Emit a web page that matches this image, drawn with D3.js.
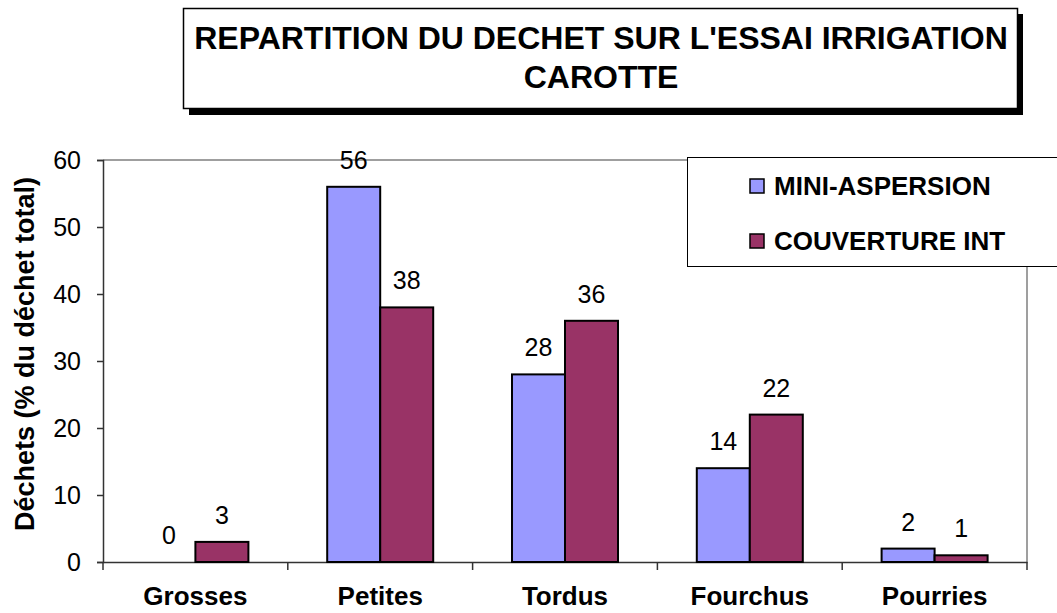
<!DOCTYPE html>
<html>
<head>
<meta charset="utf-8">
<script src="https://cdn.jsdelivr.net/npm/d3@7"></script>
<style>
  body { margin: 0; background: #fff; }
  svg { display: block; font-family: "Liberation Sans", Arial, sans-serif; }
</style>
</head>
<body>
<svg id="chart" width="1057" height="613"></svg>
<script>
var categories = ["Grosses", "Petites", "Tordus", "Fourchus", "Pourries"];
var seriesNames = ["MINI-ASPERSION", "COUVERTURE INT"];
var miniAspersion = [0, 56, 28, 14, 2];
var couvertureInt = [3, 38, 36, 22, 1];
var yTicks = [0, 10, 20, 30, 40, 50, 60];
var colors = ["#9999ff", "#993366"];

var svg = d3.select("#chart");
var plotL = 103, plotR = 1027, plotT = 160, plotB = 562;
var font = "Liberation Sans, Arial, sans-serif";

var x = d3.scaleBand().domain(categories).range([plotL, plotR]);
var x1 = d3.scaleBand().domain(seriesNames).range([0, 106]);
var y = d3.scaleLinear().domain([0, 60]).range([plotB, plotT]);

// title box with shadow
svg.append("rect").attr("x", 189).attr("y", 14).attr("width", 834).attr("height", 101).attr("fill", "#000");
svg.append("rect").attr("x", 183.5).attr("y", 8.5).attr("width", 834).attr("height", 100)
  .attr("fill", "#fff").attr("stroke", "#000").attr("stroke-width", 1.5);
svg.append("text").attr("x", 601).attr("y", 49).attr("text-anchor", "middle")
  .attr("font-weight", "bold").attr("font-size", 32).text("REPARTITION DU DECHET SUR L'ESSAI IRRIGATION");
svg.append("text").attr("x", 601).attr("y", 88).attr("text-anchor", "middle")
  .attr("font-weight", "bold").attr("font-size", 32).text("CAROTTE");

// plot frame
svg.append("path").attr("d", "M" + plotL + "," + plotT + "H" + plotR + "V" + plotB)
  .attr("fill", "none").attr("stroke", "#808080").attr("stroke-width", 1.5);

// y axis
var yAxis = svg.append("g").attr("transform", "translate(" + plotL + ",0)")
  .call(d3.axisLeft(y).tickValues(yTicks).tickSize(6).tickPadding(16));
yAxis.select(".domain").attr("stroke", "#333").attr("stroke-width", 1.5);
yAxis.selectAll(".tick line").attr("stroke", "#333").attr("stroke-width", 1.5);
yAxis.selectAll("text").attr("font-size", 25).attr("fill", "#000").attr("font-family", font);

// x axis
var xAxis = svg.append("g").attr("transform", "translate(0," + plotB + ")")
  .call(d3.axisBottom(x).tickSize(0).tickPadding(0));
xAxis.select(".domain").attr("stroke", "#333").attr("stroke-width", 1.5);
xAxis.selectAll("text").attr("font-size", 26).attr("font-weight", "bold").attr("fill", "#000")
  .attr("font-family", font).attr("dy", null).attr("y", 43);
var bounds = categories.map(function(c) { return x(c); }).concat([plotR]);
svg.append("g").selectAll("line").data(bounds).enter().append("line")
  .attr("x1", function(d) { return d; }).attr("x2", function(d) { return d; })
  .attr("y1", plotB).attr("y2", plotB + 8).attr("stroke", "#333").attr("stroke-width", 1.5);

// bars
var rows = categories.map(function(c, i) {
  return { cat: c, vals: [miniAspersion[i], couvertureInt[i]] };
});
var groups = svg.append("g").selectAll("g").data(rows).enter().append("g")
  .attr("transform", function(d) { return "translate(" + (x(d.cat) + x.bandwidth() / 2 - 53) + ",0)"; });
groups.selectAll("rect").data(function(d) { return d.vals; }).enter().append("rect")
  .attr("x", function(d, i) { return x1(seriesNames[i]); })
  .attr("y", function(d) { return y(d); })
  .attr("width", x1.bandwidth())
  .attr("height", function(d) { return plotB - y(d); })
  .attr("fill", function(d, i) { return colors[i]; })
  .attr("stroke", function(d) { return d > 0 ? "#000" : "none"; }).attr("stroke-width", 2);
groups.selectAll("text").data(function(d) { return d.vals; }).enter().append("text")
  .attr("x", function(d, i) { return x1(seriesNames[i]) + x1.bandwidth() / 2; })
  .attr("y", function(d) { return y(d) - 18; })
  .attr("text-anchor", "middle").attr("font-size", 25)
  .text(function(d) { return d; });

// y title
svg.append("text").attr("transform", "translate(34," + ((plotT + plotB) / 2 - 7) + ") rotate(-90)")
  .attr("text-anchor", "middle").attr("font-weight", "bold").attr("font-size", 27)
  .text("Déchets (% du déchet total)");

// legend
var legend = svg.append("g");
legend.append("rect").attr("x", 687.5).attr("y", 157.5).attr("width", 380).attr("height", 109)
  .attr("fill", "#fff").attr("stroke", "#000").attr("stroke-width", 1);
var items = legend.selectAll("g.item").data(seriesNames).enter().append("g")
  .attr("transform", function(d, i) { return "translate(750," + (179 + i * 55) + ")"; });
items.append("rect").attr("width", 14).attr("height", 14)
  .attr("fill", function(d, i) { return colors[i]; }).attr("stroke", "#000").attr("stroke-width", 1.5);
items.append("text").attr("x", 24).attr("y", 16).attr("font-size", 26).attr("font-weight", "bold")
  .text(function(d) { return d; });
</script>
</body>
</html>
